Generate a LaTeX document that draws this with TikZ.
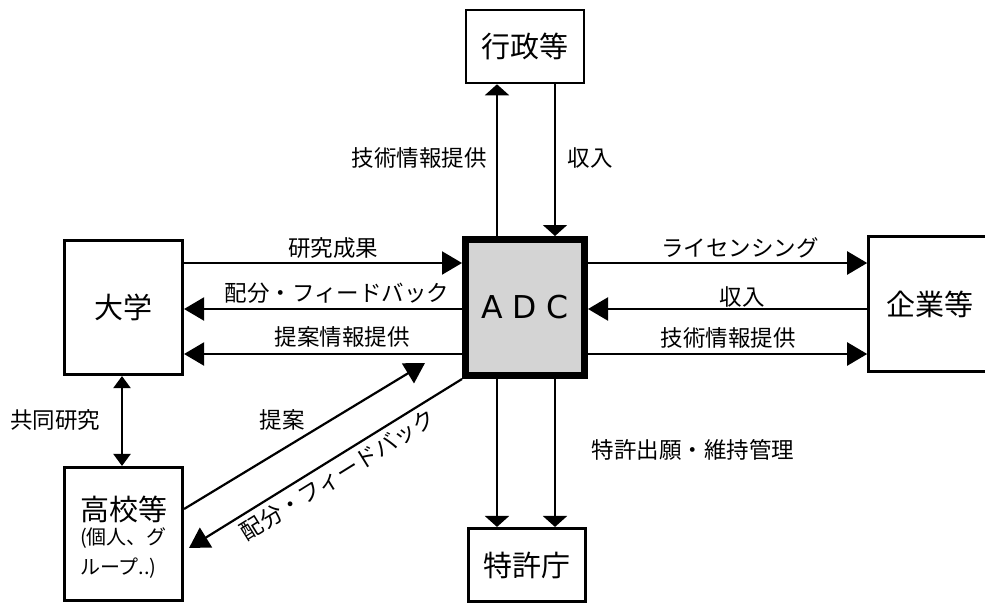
\documentclass[tikz,border=0pt]{standalone}
\usepackage{fontspec}
\setmainfont{Noto Sans CJK JP}
\newfontfamily\adcfont{DejaVu Sans}
\usetikzlibrary{arrows.meta}
\begin{document}
\begin{tikzpicture}[x=1pt,y=-1pt,
  box/.style={draw, line width=2.6pt, inner sep=0pt, fill=white,
    font=\fontsize{29}{32}\selectfont},
  adcbox/.style={draw, line width=7pt, inner sep=0pt, fill=black!17,
    font=\adcfont\fontsize{31.5}{36}\selectfont},
  harr/.style={line width=2.2pt, -{Triangle[length=20pt,width=23pt]}},
  varr/.style={line width=2.2pt, -{Triangle[length=11pt,width=24pt]}},
  darr/.style={line width=2.2pt, {Triangle[length=12pt,width=17pt]}-{Triangle[length=12pt,width=17pt]}},
  lbl/.style={inner sep=0pt, font=\fontsize{22.5}{27}\selectfont}]
\useasboundingbox (0,0) rectangle (985,605);
% boxes
\node[box, minimum width=118pt, minimum height=73pt] (gyosei) at (525,46.5) {行政等};
\node[box, minimum width=118.5pt, minimum height=134.5pt] (dai) at (123.5,307.5) {\raisebox{-4pt}{大学}};
\node[adcbox, minimum width=119pt, minimum height=136pt] (adc) at (525,307.5) {A D C};
\node[box, minimum width=123pt, minimum height=135.5pt] (kigyo) at (930,304) {企業等};
\node[box, minimum width=118.5pt, minimum height=133.5pt, align=left,
  font=\fontsize{20}{30}\selectfont] (kouko) at (123.5,534)
  {{\fontsize{29}{30}\selectfont\rule{0pt}{31pt}高校等}\\[-6pt](個人、グ\\ループ..)};
\node[box, minimum width=117.5pt, minimum height=73.5pt] (tokkyo) at (527,565) {特許庁};
% helper coordinates
\coordinate (yA) at (0,263);
\coordinate (yB) at (0,309);
\coordinate (yC) at (0,354);
\coordinate (xA) at (497,0);
\coordinate (xB) at (555,0);
\coordinate (xK) at (122,0);
\coordinate (yT) at (0,509);
\coordinate (teian) at (425,363);
\coordinate (haibun) at (189,548);
% connectors
\draw[varr] (adc.north -| xA) -- (gyosei.south -| xA);
\draw[varr] (gyosei.south -| xB) -- (adc.north -| xB);
\draw[harr] (dai.east |- yA) -- (adc.west |- yA);
\draw[harr] (adc.west |- yB) -- (dai.east |- yB);
\draw[harr] (adc.west |- yC) -- (dai.east |- yC);
\draw[harr] (adc.east |- yA) -- (kigyo.west |- yA);
\draw[harr] (kigyo.west |- yB) -- (adc.east |- yB);
\draw[harr] (adc.east |- yC) -- (kigyo.west |- yC);
\draw[varr] (adc.south -| xA) -- (tokkyo.north -| xA);
\draw[varr] (adc.south -| xB) -- (tokkyo.north -| xB);
\draw[darr] (dai.south -| xK) -- (kouko.north -| xK);
\draw[harr] (kouko.east |- yT) -- (teian);
\draw[harr] (adc.south west) -- (haibun);
% labels
\node[lbl] at (419,158) {技術情報提供};
\node[lbl] at (590,158) {収入};
\node[lbl] at (333,248) {研究成果};
\node[lbl] at (337,293) {配分・フィードバック};
\node[lbl] at (342,337) {提案情報提供};
\node[lbl] at (740,248) {ライセンシング};
\node[lbl] at (742,297) {収入};
\node[lbl] at (728,338) {技術情報提供};
\node[lbl] at (55,420) {共同研究};
\node[lbl] at (282,420) {提案};
\node[lbl] at (693,450) {特許出願・維持管理};
\node[lbl, rotate=31.8] at (338,475) {配分・フィードバック};
\end{tikzpicture}
\end{document}
